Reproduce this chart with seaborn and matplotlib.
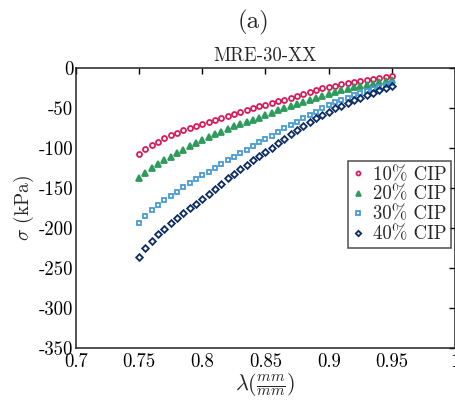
import numpy as np
import pandas as pd
import matplotlib
matplotlib.use("Agg")
import matplotlib.pyplot as plt
import seaborn as sns

# ---- data ----
stretch = [0.750, 0.755, 0.760, 0.765, 0.770, 0.775, 0.780, 0.785, 0.790, 0.795,
           0.800, 0.805, 0.810, 0.815, 0.820, 0.825, 0.830, 0.835, 0.840, 0.845,
           0.850, 0.855, 0.860, 0.865, 0.870, 0.875, 0.880, 0.885, 0.890, 0.895,
           0.900, 0.905, 0.910, 0.915, 0.920, 0.925, 0.930, 0.935, 0.940, 0.945,
           0.950]
cip10 = [-108, -101, -96, -92, -88, -84, -81, -78, -75, -72,
         -69.5, -67, -64.5, -62, -59.5, -57, -55, -52.5, -50.5, -48,
         -46, -44, -41.5, -39.5, -37, -35, -33, -30.5, -28, -25.5,
         -23.5, -22, -20.5, -19, -17.5, -16, -15, -13.5, -12.5, -11,
         -10]
cip20 = [-138, -131, -125, -120, -115, -111, -106.5, -102.5, -98, -94,
         -90, -86.5, -83, -79.5, -76, -73, -70, -67, -64.5, -62,
         -59, -56, -53, -50, -47, -44.5, -42, -39.5, -37, -34.5,
         -32, -30, -28, -26, -24, -22.5, -21, -19.5, -18, -16.5,
         -15]
cip30 = [-194, -185, -177, -171, -165, -160, -154.5, -149, -144, -139,
         -134, -129.5, -125, -120, -115.5, -111, -106.5, -102, -97.5, -93,
         -89, -84.5, -80, -75.5, -71, -67, -63, -59, -55, -50.5,
         -46.5, -43, -40, -37, -34, -31, -28.5, -26, -23.5, -21,
         -19]
cip40 = [-236, -225, -216, -208, -201, -194, -187.5, -181, -175, -169.5,
         -164, -157.5, -151, -144.5, -138, -132, -126.5, -121, -115.5, -110,
         -105, -99.5, -94, -88.5, -83, -77.5, -72.5, -67.5, -63, -58.5,
         -54.5, -50.5, -47, -43.5, -40, -37, -34, -31, -28, -25,
         -22]
series_labels = ["10% CIP", "20% CIP", "30% CIP", "40% CIP"]
xticks = [0.7, 0.75, 0.8, 0.85, 0.9, 0.95, 1.0]
xtick_labels = ["0.7", "0.75", "0.8", "0.85", "0.9", "0.95", "1"]
yticks = [0, -50, -100, -150, -200, -250, -300, -350]
ytick_labels = ["0", "-50", "-100", "-150", "-200", "-250", "-300", "-350"]

colors = ["#d81b5a", "#2e9b5c", "#4a9bd4", "#0c2d62"]
markers = ["o", "^", "s", "D"]
filled = [False, True, False, False]
msizes = [3.6, 4.4, 3.4, 3.4]

sns.set_style("white")
plt.rcParams["font.family"] = ["cmr10", "DejaVu Serif"]
plt.rcParams["mathtext.fontset"] = "cm"
plt.rcParams["axes.unicode_minus"] = False
plt.rcParams["axes.formatter.use_mathtext"] = True

fig = plt.figure(figsize=(4.56, 4.04), dpi=100)
ax = fig.add_axes([76 / 456, 1 - 348 / 404, 379 / 456, 280 / 404])

for vals, lab, c, m, f, ms in zip([cip10, cip20, cip30, cip40], series_labels,
                                  colors, markers, filled, msizes):
    df = pd.DataFrame({"x": stretch, "y": vals})
    sns.lineplot(data=df, x="x", y="y", ax=ax, linestyle="none", marker=m,
                 markersize=ms, markeredgewidth=1.3,
                 markerfacecolor=c if f else "none", markeredgecolor=c,
                 color=c, label=lab)

ax.set_xlim(0.7, 1.0)
ax.set_ylim(-350, 0)
ax.set_xticks(xticks)
ax.set_xticklabels(xtick_labels)
ax.set_yticks(yticks)
ax.set_yticklabels(ytick_labels)
ax.tick_params(direction="in", length=4, width=1, top=True, right=True,
               labelsize=13.5, colors="black", pad=2)
ax.tick_params(axis="x", pad=4)
for s in ax.spines.values():
    s.set_visible(True)
    s.set_linewidth(1.1)
    s.set_color("#222222")

ax.set_xlabel(r"$\lambda(\frac{mm}{mm})$", fontsize=16, labelpad=0)
ax.set_ylabel(r"$\sigma$ (kPa)", fontsize=14, labelpad=2)
ax.set_title("MRE-30-XX", fontsize=13.5, pad=5)
fig.text(254 / 456, 1 - 22 / 404, "(a)", fontsize=18, ha="center", va="center")

leg = ax.legend(loc="upper right", bbox_to_anchor=(0.99, 0.667), frameon=True,
                fancybox=False, edgecolor="#222222", fontsize=13.5,
                handlelength=0.6, handletextpad=0.5, borderpad=0.25,
                labelspacing=0.1, borderaxespad=0.0, markerscale=0.8)
leg.get_frame().set_linewidth(1.1)

fig.savefig("out.png", dpi=100)
